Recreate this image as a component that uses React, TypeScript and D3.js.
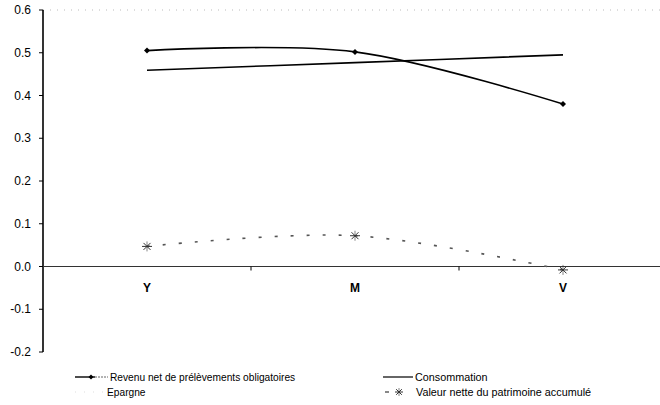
import React from "react";
import * as d3 from "d3";

const categories = ["Y", "M", "V"];
const revenu = [0.505, 0.502, 0.38];
const consommation = [0.459, 0.477, 0.495];
const valeur = [0.047, 0.072, -0.008];
const yTicks = [0.6, 0.5, 0.4, 0.3, 0.2, 0.1, 0.0, -0.1, -0.2];

const W = 660;
const H = 405;
const left = 43;
const bandW = 208;
const yTop = 10;
const yBottom = 352;

export default function App() {
  const x = d3
    .scaleBand<string>()
    .domain(categories)
    .range([left, left + bandW * categories.length])
    .padding(0);
  const y = d3.scaleLinear().domain([-0.2, 0.6]).range([yBottom, yTop]);
  const cx = (c: string) => (x(c) as number) + x.bandwidth() / 2;

  const line = d3
    .line<number>()
    .x((_, i) => cx(categories[i]))
    .y((d) => y(d))
    .curve(d3.curveCardinal.tension(0));

  const star = (px: number, py: number, key: string, r = 5) => (
    <g key={key} stroke="#333" strokeWidth={1}>
      <line x1={px - r} y1={py} x2={px + r} y2={py} />
      <line x1={px - r * 0.7} y1={py - r * 0.7} x2={px + r * 0.7} y2={py + r * 0.7} />
      <line x1={px - r * 0.7} y1={py + r * 0.7} x2={px + r * 0.7} y2={py - r * 0.7} />
      <line x1={px} y1={py - r} x2={px} y2={py + r} strokeWidth={0.6} />
    </g>
  );

  const diamond = (px: number, py: number, key: string, r = 3) => (
    <path
      key={key}
      d={`M${px},${py - r}L${px + r},${py}L${px},${py + r}L${px - r},${py}Z`}
      fill="#000"
    />
  );

  const font = "'Liberation Sans', Arial, sans-serif";

  return (
    <svg
      width={W}
      height={H}
      style={{ position: "absolute", left: 0, top: 0, background: "#fff" }}
      fontFamily={font}
    >
      {/* faint top gridline */}
      <line
        x1={left}
        x2={W}
        y1={y(0.6)}
        y2={y(0.6)}
        stroke="#bbb"
        strokeWidth={1}
        strokeDasharray="1 6"
      />
      {/* y axis */}
      <line x1={left} x2={left} y1={y(0.6)} y2={y(-0.2)} stroke="#000" strokeWidth={1.6} />
      {yTicks.map((t) => (
        <g key={t}>
          <line x1={left - 4} x2={left} y1={y(t)} y2={y(t)} stroke="#000" strokeWidth={1} />
          <text
            x={left - 12}
            y={y(t)}
            dy="0.35em"
            textAnchor="end"
            fontSize={12}
            fill="#000"
          >
            {t.toFixed(1)}
          </text>
        </g>
      ))}
      {/* x axis at 0 */}
      <line x1={left} x2={W} y1={y(0)} y2={y(0)} stroke="#333" strokeWidth={1.2} />
      {categories.slice(1).map((c) => (
        <line
          key={c}
          x1={x(c) as number}
          x2={x(c) as number}
          y1={y(0)}
          y2={y(0) + 4}
          stroke="#000"
          strokeWidth={1}
        />
      ))}
      {categories.map((c) => (
        <text
          key={c}
          x={cx(c)}
          y={y(0) + 25}
          textAnchor="middle"
          fontSize={12}
          fontWeight="bold"
          fill="#000"
        >
          {c}
        </text>
      ))}

      {/* Consommation */}
      <path d={line(consommation) || ""} fill="none" stroke="#000" strokeWidth={1.6} />
      {/* Revenu */}
      <path d={line(revenu) || ""} fill="none" stroke="#000" strokeWidth={1.6} />
      {revenu.map((v, i) => diamond(cx(categories[i]), y(v), "r" + i))}
      {/* Valeur nette */}
      <path
        d={line(valeur) || ""}
        fill="none"
        stroke="#555"
        strokeWidth={1.6}
        strokeDasharray="3 13"
      />
      {valeur.map((v, i) => star(cx(categories[i]), y(v), "v" + i))}

      {/* Legend */}
      <g fill="#000">
        <line x1={75} x2={95} y1={377} y2={377} stroke="#000" strokeWidth={1.4} />
        <line x1={95} x2={108} y1={377} y2={377} stroke="#666" strokeWidth={1} strokeDasharray="2 1" />
        {diamond(91, 377, "ld", 2.5)}
        <text x={110} y={377} dy="0.35em" fontSize={10.2}>
          Revenu net de prélèvements obligatoires
        </text>

        <line x1={75} x2={105} y1={392} y2={392} stroke="#ddd" strokeWidth={1} strokeDasharray="1 8" />
        <text x={107} y={392} dy="0.35em" fontSize={10.2}>
          Epargne
        </text>

        <line x1={383} x2={413} y1={377} y2={377} stroke="#000" strokeWidth={1.2} />
        <text x={415} y={377} dy="0.35em" fontSize={10.8}>
          Consommation
        </text>

        <line x1={385} x2={389} y1={392} y2={392} stroke="#555" strokeWidth={1.4} />
        {star(399, 392, "ls", 4)}
        <text x={416} y={392} dy="0.35em" fontSize={10.8}>
          Valeur nette du patrimoine accumulé
        </text>
      </g>
    </svg>
  );
}
